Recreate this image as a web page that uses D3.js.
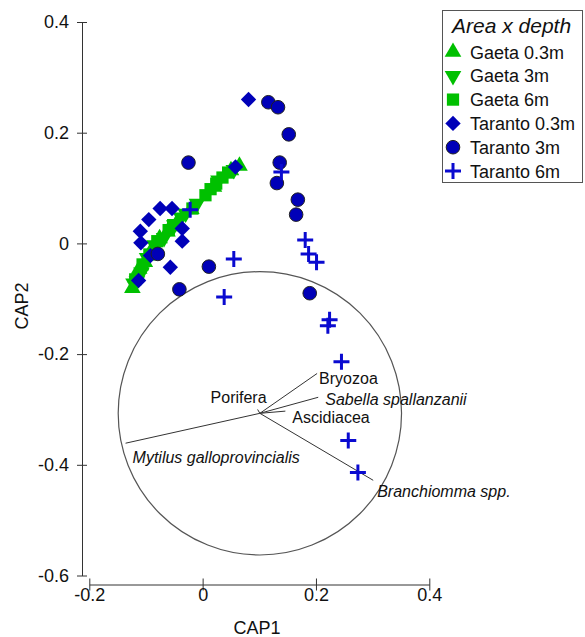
<!DOCTYPE html>
<html><head><meta charset="utf-8">
<script src="https://cdn.jsdelivr.net/npm/d3@7/dist/d3.min.js"></script>
<style>
body{margin:0;background:#fff;}
svg{display:block;font-family:"Liberation Sans",Arial,sans-serif;}
</style></head>
<body>
<svg id="chart" width="585" height="637"></svg>
<script>
// ---- data ----
const xTicks = [-0.2, 0, 0.2, 0.4];
const yTicks = [0.4, 0.2, 0, -0.2, -0.4, -0.6];
const seriesNames = ["Gaeta 0.3m","Gaeta 3m","Gaeta 6m","Taranto 0.3m","Taranto 3m","Taranto 6m"];

const gaeta03 = [[-0.124,-0.081],[-0.118,-0.062],[-0.112,-0.046],[-0.102,-0.034],[-0.090,-0.012],[-0.076,0.009],[-0.062,0.021],[-0.046,0.036],[-0.020,0.062],[0.020,0.102],[0.050,0.132],[0.065,0.140]];
const gaeta3  = [[-0.122,-0.072],[-0.116,-0.068],[-0.108,-0.052],[-0.098,-0.026],[-0.085,-0.003],[-0.068,0.010],[-0.050,0.033],[-0.038,0.047],[-0.030,0.054],[-0.010,0.072],[0.028,0.114],[0.055,0.133]];
const gaeta6  = [[-0.119,-0.065],[-0.106,-0.038],[-0.094,-0.020],[-0.080,0.004],[-0.060,0.024],[-0.052,0.033],[-0.018,0.063],[0.005,0.087],[0.014,0.098],[0.024,0.108],[0.035,0.119],[0.045,0.128]];
const taranto03 = [[-0.075,0.063],[-0.054,0.063],[-0.095,0.043],[-0.110,0.022],[-0.036,0.027],[-0.109,0.001],[-0.036,0.004],[-0.092,-0.022],[-0.057,-0.043],[-0.113,-0.067],[0.058,0.138],[0.081,0.260]];
const taranto3  = [[-0.025,0.146],[0.116,0.255],[0.133,0.246],[0.152,0.197],[0.136,0.146],[0.131,0.109],[0.168,0.079],[0.165,0.052],[0.189,-0.090],[0.011,-0.042],[-0.041,-0.083],[-0.079,-0.019]];
const taranto6  = [[-0.022,0.061],[0.139,0.129],[0.181,0.006],[0.187,-0.019],[0.201,-0.034],[0.224,-0.138],[0.221,-0.149],[0.245,-0.214],[0.257,-0.356],[0.274,-0.414],[0.055,-0.028],[0.038,-0.097]];

const vecOrigin = [0.101, -0.307];
const circleRadius = 0.25;
const vecNames  = ["Bryozoa","Sabella spallanzanii","Ascidiacea","Porifera","Mytilus galloprovincialis","Branchiomma spp."];
const vecX      = [0.202, 0.204, 0.146, 0.097, -0.136, 0.301];
const vecY      = [-0.235, -0.278, -0.303, -0.300, -0.361, -0.428];
const vecItalic = [false, true, false, false, true, true];

// ---- drawing ----
const svg = d3.select("#chart");
const x = d3.scaleLinear().domain([-0.2, 0.4]).range([89.3, 429.3]);
const y = d3.scaleLinear().domain([-0.6, 0.4]).range([575.5, 22]);
const fmt = d => d === 0 ? "0" : d3.format(".1f")(d).replace("−","-");
const axisColor = "#333";

// Y axis
const gy = svg.append("g").attr("transform","translate(82,0)")
  .call(d3.axisLeft(y).tickValues(yTicks).tickSize(5).tickSizeOuter(0).tickFormat(fmt));
gy.select(".domain").attr("stroke",axisColor);
gy.selectAll(".tick line").attr("x1",5).attr("x2",-5).attr("stroke",axisColor);
gy.selectAll(".tick text").attr("x",-13).attr("font-size",18).attr("fill","#111")
  .attr("font-family","Liberation Sans, Arial, sans-serif");

// X axis
const gx = svg.append("g").attr("transform","translate(0,584.5)")
  .call(d3.axisBottom(x).tickValues(xTicks).tickSize(5).tickSizeOuter(0).tickFormat(fmt));
gx.select(".domain").attr("stroke",axisColor);
gx.selectAll(".tick line").attr("y1",-6).attr("y2",6).attr("stroke",axisColor);
gx.selectAll(".tick text").attr("y",4).attr("font-size",18).attr("fill","#111")
  .attr("font-family","Liberation Sans, Arial, sans-serif");

// axis titles
svg.append("text").attr("x",257).attr("y",634).attr("text-anchor","middle")
  .attr("font-size",18).attr("fill","#111").text("CAP1");
svg.append("text").attr("transform","translate(28,306) rotate(-90)").attr("text-anchor","middle")
  .attr("font-size",18).attr("fill","#111").text("CAP2");

// circle + vectors
const cx = x(vecOrigin[0]), cy = y(vecOrigin[1]);
svg.append("circle").attr("cx",cx).attr("cy",cy).attr("r", x(vecOrigin[0]+circleRadius)-cx)
  .attr("fill","none").attr("stroke","#555").attr("stroke-width",1.2);
const labelOff = [[2,11,"start"],[7,8,"start"],[7,12,"start"],[9,-6,"end"],[7,20,"start"],[4,17,"start"]];
vecNames.forEach((n,i)=>{
  svg.append("line").attr("x1",cx).attr("y1",cy).attr("x2",x(vecX[i])).attr("y2",y(vecY[i]))
    .attr("stroke","#333").attr("stroke-width",1);
  svg.append("text").attr("x",x(vecX[i])+labelOff[i][0]).attr("y",y(vecY[i])+labelOff[i][1])
    .attr("text-anchor",labelOff[i][2]).attr("font-size",16).attr("fill","#111")
    .attr("font-style",vecItalic[i]?"italic":"normal").text(n);
});

// symbols
const green = "#00c000", blue = "#0000b8", crossBlue = "#0a0ad0";
const sym = {
  up:   d3.symbol().type(d3.symbolTriangle).size(120),
  sq:   d3.symbol().type(d3.symbolSquare).size(150),
  dia:  d3.symbol().type(d3.symbolSquare).size(118),
};
function drawSym(g, kind, px, py){
  if(kind==="up") g.append("path").attr("d",sym.up()).attr("transform",`translate(${px},${py})`).attr("fill",green);
  else if(kind==="down") g.append("path").attr("d",sym.up()).attr("transform",`translate(${px},${py}) rotate(180)`).attr("fill",green);
  else if(kind==="sq") g.append("path").attr("d",sym.sq()).attr("transform",`translate(${px},${py})`).attr("fill",green);
  else if(kind==="dia") g.append("path").attr("d",sym.dia()).attr("transform",`translate(${px},${py}) rotate(45)`).attr("fill",blue);
  else if(kind==="circ") g.append("circle").attr("cx",px).attr("cy",py).attr("r",6.8).attr("fill",blue).attr("stroke","#222").attr("stroke-width",1);
  else if(kind==="cross"){
    const h=8;
    g.append("path").attr("d",`M${px-h},${py}H${px+h}M${px},${py-h}V${py+h}`)
      .attr("stroke",crossBlue).attr("stroke-width",3).attr("fill","none");
  }
}
const allSeries = [gaeta03, gaeta3, gaeta6, taranto03, taranto3, taranto6];
const kinds = ["up","down","sq","dia","circ","cross"];
const gp = svg.append("g");
allSeries.forEach((s,i)=> s.forEach(p=> drawSym(gp, kinds[i], x(p[0]), y(p[1]))));

// legend
const lg = svg.append("g");
lg.append("rect").attr("x",442.5).attr("y",10.5).attr("width",140).attr("height",172)
  .attr("fill","#fff").attr("stroke","#555").attr("stroke-width",1);
lg.append("text").attr("x",452).attr("y",33).attr("font-size",21).attr("font-style","italic")
  .attr("fill","#111").text("Area x depth");
seriesNames.forEach((n,i)=>{
  const yy = 52 + i*23.8;
  drawSym(lg, kinds[i], 453, yy);
  lg.append("text").attr("x",470).attr("y",yy+6.5).attr("font-size",18).attr("fill","#111").text(n);
});
</script>
</body></html>
